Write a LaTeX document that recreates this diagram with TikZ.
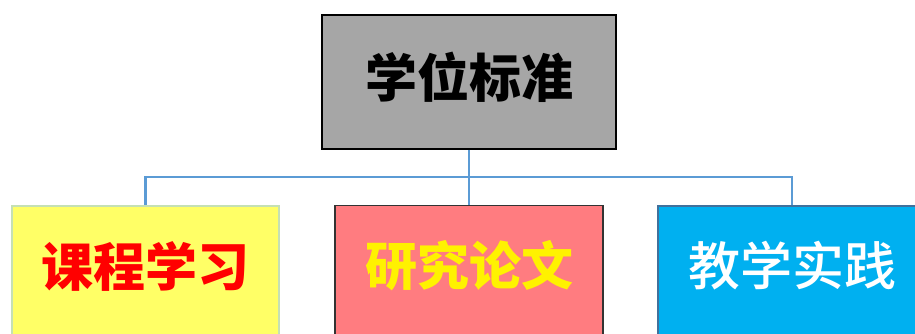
\documentclass[tikz,border=0pt]{standalone}
\usepackage{fontspec}
\newfontfamily\cjk{Noto Sans CJK SC}
\newfontfamily\cjkmed{Noto Sans CJK SC Medium}
\definecolor{topgray}{HTML}{A6A6A6}
\definecolor{lowyellow}{HTML}{FFFF66}
\definecolor{lowpink}{HTML}{FF7C80}
\definecolor{lowblue}{HTML}{00B0F0}
\definecolor{linkblue}{HTML}{5B9BD5}
\definecolor{edgegreen}{HTML}{C5E0B4}
\definecolor{edgeblue}{HTML}{41719C}
\tikzset{
	box/.style={rectangle, inner sep=0pt, line width=1.6pt},
	word/.style={inner sep=0pt, font=\cjk\bfseries\fontsize{52}{60}\selectfont},
	link/.style={draw=linkblue, line width=2.4pt}
}
\begin{document}
\begin{tikzpicture}[x=1pt,y=1pt]
	\useasboundingbox (0,0) rectangle (915,334);
		\node[box, draw=black, fill=topgray, minimum width=294pt, minimum height=134pt] at (469,252) (T) {};
		\node[box, draw=edgegreen, fill=lowyellow, anchor=north, minimum width=267pt, minimum height=170pt] at (145.5,129) (B1) {};
		\node[box, draw=black!80, line width=1.2pt, fill=lowpink, anchor=north, minimum width=268pt, minimum height=170pt] at (469,129) (B2) {};
		\node[box, draw=edgeblue, fill=lowblue, anchor=north, minimum width=268pt, minimum height=170pt] at (792,129) (B3) {};
		\node[word, text=black] at (469,257) (L0) {学位标准};
		\node[word, text=red] at (145.5,68) (L1) {课程学习};
		\node[word, text=yellow] at (469,68) (L2) {研究论文};
		\node[word, font=\cjkmed\fontsize{52}{60}\selectfont, text=white] at (792,68) (L3) {教学实践};
		\coordinate (J) at (469,157);
		\draw[link] (T.south) -- (J);
		\foreach \i in {1,2,3}{
			\draw[link] (J) -| (B\i.north);
		}
	\end{tikzpicture}
\end{document}
